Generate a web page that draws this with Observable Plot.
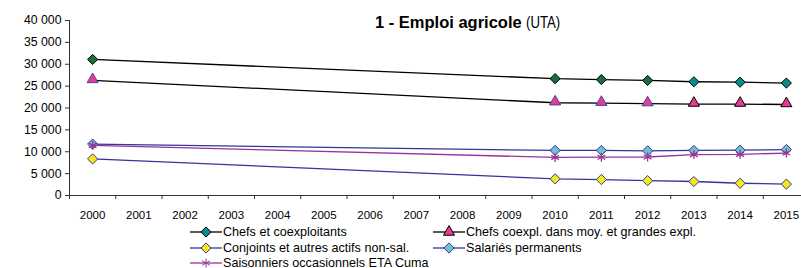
<!DOCTYPE html>
<html><head><meta charset="utf-8">
<script src="https://cdn.jsdelivr.net/npm/d3@7"></script>
<script src="https://cdn.jsdelivr.net/npm/@observablehq/plot@0.6"></script>
<style>
body{margin:0;background:#fff;}
#wrap{position:relative;width:801px;height:268px;overflow:hidden;font-family:"Liberation Sans",Arial,sans-serif;color:#000;}
#chart{position:absolute;left:0;top:0;}
.narrow{display:inline-block;transform:scaleX(0.8);transform-origin:0 50%;}
#title{position:absolute;left:375px;top:14px;white-space:nowrap;line-height:17px;}
#title b{font-size:16.5px;font-weight:bold;}
#title span{font-size:16.5px;}
.leg{position:absolute;display:flex;align-items:center;height:14px;white-space:nowrap;font-size:12.6px;line-height:14px;}
.leg svg{display:block;margin-right:1px;}
</style></head>
<body>
<div id="wrap">
  <div id="chart"></div>
  <div id="title"><b>1 - Emploi agricole</b> <span class="narrow">(UTA)</span></div>
  <div id="legend"></div>
</div>
<script>
// ---- data ----
const years = [2000, 2010, 2011, 2012, 2013, 2014, 2015];
const chefs = [31100, 26700, 26500, 26300, 26000, 25900, 25700];
const chefsMoyGrandes = [26300, 21200, 21100, 21000, 20900, 20900, 20800];
const conjoints = [8360, 3800, 3650, 3400, 3200, 2800, 2600];
const salaries = [11750, 10300, 10300, 10200, 10300, 10350, 10500];
const saisonniers = [11450, 8700, 8750, 8800, 9350, 9400, 9700];
const axisYears = d3.range(2000, 2016);
const yTicks = [0, 5000, 10000, 15000, 20000, 25000, 30000, 35000, 40000];
const seriesNames = [
  "Chefs et coexploitants",
  "Chefs coexpl. dans moy. et grandes expl.",
  "Conjoints et autres actifs non-sal.",
  "Salariés permanents",
  "Saisonniers occasionnels ETA Cuma"
];

const mk = arr => years.map((y, i) => ({year: y, value: arr[i]}));
const dChefs = mk(chefs), dMoy = mk(chefsMoyGrandes), dConj = mk(conjoints), dSal = mk(salaries), dSais = mk(saisonniers);

const C = {
  green: "#166f3c", teal: "#0b8b8b", pink: "#e83a8e", blueEdge: "#4646a6",
  navy: "#34349a", yellow: "#f7e81c", light: "#6cc3cd", purple: "#993399"
};
const fmt = d => d3.format(",")(d).replace(/,/g, " ");
const boundaries = d3.range(1999.5, 2016, 1);

const chart = Plot.plot({
  width: 801, height: 222,
  marginLeft: 69, marginRight: 0, marginTop: 20, marginBottom: 27,
  style: {fontFamily: '"Liberation Sans",Arial,sans-serif', background: "#fff", color: "#000"},
  x: {type: "linear", domain: [1999.5, 2015.5], range: [69, 809], label: null},
  y: {domain: [0, 40000], label: null},
  marks: [
    Plot.axisY({ticks: yTicks, tickFormat: fmt, tickSize: 4, tickPadding: 4, fontSize: 12.3, stroke: "#333", label: null}),
    Plot.axisX({ticks: axisYears, tickSize: 0, tickPadding: 15, tickFormat: d => String(d), fontSize: 11.5, label: null, ariaLabel: "x-years"}),
    Plot.axisX({ticks: boundaries, tickSize: 4, tickFormat: () => "", stroke: "#333", label: null}),
    Plot.ruleY([0], {stroke: "#333"}),
    Plot.ruleX([1999.5], {stroke: "#333"}),
    // Chefs et coexploitants
    Plot.line(dChefs, {x: "year", y: "value", stroke: "#000", strokeWidth: 1.3}),
    Plot.dot(dChefs.filter(d => d.year < 2013), {x: "year", y: "value", symbol: "diamond2", r: 4.6, fill: C.green, stroke: "#000", strokeWidth: 1}),
    Plot.dot(dChefs.filter(d => d.year >= 2013), {x: "year", y: "value", symbol: "diamond2", r: 4.6, fill: C.teal, stroke: "#000", strokeWidth: 1}),
    // Chefs moy. et grandes
    Plot.line(dMoy, {x: "year", y: "value", stroke: "#000", strokeWidth: 1.3}),
    Plot.dot(dMoy.filter(d => d.year < 2013), {x: "year", y: "value", symbol: "triangle2", r: 5.3, fill: C.pink, stroke: C.blueEdge, strokeWidth: 1, dy: -1}),
    Plot.dot(dMoy.filter(d => d.year >= 2013), {x: "year", y: "value", symbol: "triangle2", r: 5.3, fill: C.pink, stroke: "#000", strokeWidth: 1, dy: -1}),
    // Conjoints
    Plot.line(dConj, {x: "year", y: "value", stroke: C.navy, strokeWidth: 1.3}),
    Plot.dot(dConj, {x: "year", y: "value", symbol: "diamond2", r: 4.6, fill: C.yellow, stroke: C.navy, strokeWidth: 1}),
    // Salariés permanents
    Plot.line(dSal, {x: "year", y: "value", stroke: C.navy, strokeWidth: 1.3}),
    Plot.dot(dSal, {x: "year", y: "value", symbol: "diamond2", r: 4.6, fill: C.light, stroke: C.navy, strokeWidth: 1}),
    // Saisonniers
    Plot.line(dSais, {x: "year", y: "value", stroke: C.purple, strokeWidth: 1.3}),
    Plot.dot(dSais, {x: "year", y: "value", symbol: "asterisk", r: 4.2, stroke: C.purple, strokeWidth: 1.3})
  ]
});
// condense the year labels horizontally (the reference uses a narrow face)
chart.querySelectorAll('g[aria-label="x-years"] text').forEach(t => {
  const tr = t.getAttribute("transform") || "";
  t.setAttribute("transform", tr + " scale(0.85,1)");
});
document.getElementById("chart").appendChild(chart);

// ---- legend ----
const legItems = [
  {name: seriesNames[0], line: "#000", sym: d3.symbolDiamond2, r: 4.6, fill: C.teal, stroke: "#000", left: 190, cy: 232},
  {name: seriesNames[1], line: "#000", sym: d3.symbolTriangle2, r: 5.3, fill: C.pink, stroke: "#000", left: 433, cy: 232},
  {name: seriesNames[2], line: C.navy, sym: d3.symbolDiamond2, r: 4.6, fill: C.yellow, stroke: C.navy, left: 190, cy: 248},
  {name: seriesNames[3], line: C.navy, sym: d3.symbolDiamond2, r: 4.6, fill: C.light, stroke: C.navy, left: 433, cy: 248},
  {name: seriesNames[4], line: C.purple, sym: d3.symbolAsterisk, r: 4.2, fill: "none", stroke: C.purple, left: 190, cy: 263}
];
const leg = document.getElementById("legend");
legItems.forEach(it => {
  const div = document.createElement("div");
  div.className = "leg";
  div.style.left = it.left + "px";
  div.style.top = (it.cy - 7) + "px";
  const path = d3.symbol(it.sym, Math.PI * it.r * it.r)();
  div.innerHTML = `<svg width="32" height="14"><line x1="0" x2="32" y1="7" y2="7" stroke="${it.line}" stroke-width="1.3"/><path transform="translate(16,7)" d="${path}" fill="${it.fill}" stroke="${it.stroke}" stroke-width="1"/></svg><span>${it.name}</span>`;
  leg.appendChild(div);
});
</script>
</body></html>
